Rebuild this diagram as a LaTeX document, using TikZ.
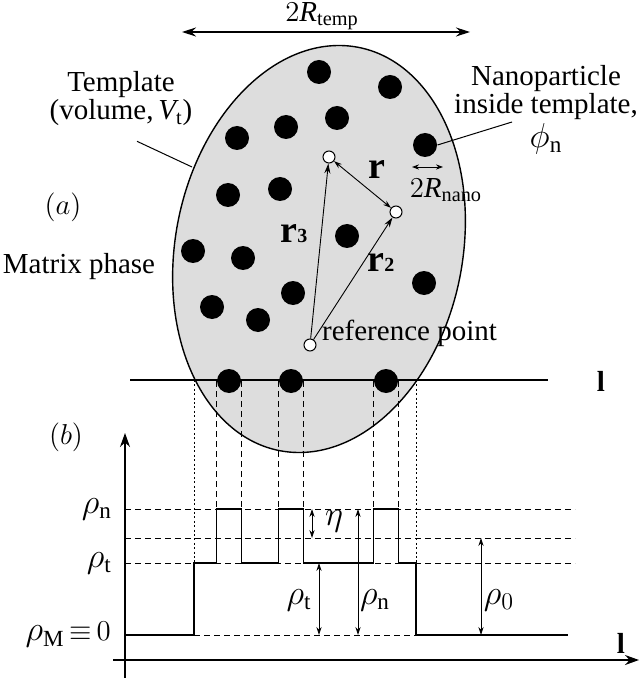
\documentclass[tikz,border=0pt]{standalone}
\usepackage{fontspec}
\setmainfont{Liberation Serif}
\usetikzlibrary{arrows.meta,calc}
\tikzset{
  particle/.style={
    shape = circle,
    fill,
    inner sep = 0pt,
    minimum size = 12pt
  },
  probe/.style={
    shape = circle,
    draw,
    fill = white,
    inner sep = 0pt,
    minimum size = 6pt
  },
  guide/.style={
    dash pattern = on 3pt off 2pt,
    line width = 0.45pt
  },
  dotguide/.style={
    dash pattern = on 1pt off 1.2pt,
    line width = 0.45pt
  },
  dimarrow/.style={
    {Stealth[length=4pt,width=2.6pt]}-{Stealth[length=4pt,width=2.6pt]},
    line width = 0.45pt
  },
  axis/.style={
    -{Stealth[length=7pt,width=5pt]},
    line width = 0.7pt
  },
  greek/.style={
    font=\fontsize{16.5}{16}\selectfont
  }
}
\begin{document}
\begin{tikzpicture}[x=0.5pt, y=-0.5pt, font=\fontsize{14.5}{14}\selectfont, line width=0.5pt]
  \useasboundingbox (0,0) rectangle (640,678);
  % (a) template with nanoparticles
  \draw[fill=gray!27, line width=0.7pt, shift={(319,249)}, xslant=0.098]
    (0,0) ellipse [x radius=72.5pt, y radius=101.75pt];
  \coordinate (lstart) at (130,380);
  \coordinate (lend) at (548,380);
  \draw[line width=0.6pt] (lstart) -- (lend);
  \node (llab) at (601,381) {\textbf{l}};
  \foreach \name/\px/\py in {d1/319/72, d2/390/87, d3/237/138, d4/286/127, d5/337/118,
      d6/425/145, d7/228/195, d8/280/189, d9/193/251, d10/243/258, d11/347/236,
      d12/424/283, d13/212/307, d14/258/320, d15/293/293,
      la/229/381, lb/291/381, lc/386/381}{
    \node[particle] (\name) at (\px,\py) {};
  }
  \node[probe] (p1) at (329,157) {};
  \node[probe] (p2) at (396,212) {};
  \node[probe] (ref) at (310,345) {};
  \draw[dimarrow] (p1) -- (p2);
  \draw[-{Stealth[length=5pt,width=3pt]}, line width=0.45pt] (ref) -- (p1);
  \draw[-{Stealth[length=5pt,width=3pt]}, line width=0.45pt] (ref) -- (p2);
  \node (rlab) at (377,170) {\fontsize{19}{19}\selectfont\textbf{r}};
  \node (r3lab) at (294,234) {\fontsize{19}{19}\selectfont\textbf{r}\fontsize{10}{10}\selectfont\textbf{3}};
  \node (r2lab) at (381,263) {\fontsize{19}{19}\selectfont\textbf{r}\fontsize{10}{10}\selectfont\textbf{2}};
  \node[anchor=west] (reflab) at (315,333) {reference point};
  % labels round the template
  \coordinate (tempL) at (182,32);
  \coordinate (tempR) at (470,32);
  \draw[{Stealth[length=7pt,width=4.5pt]}-{Stealth[length=7pt,width=4.5pt]}, line width=0.6pt] (tempL) -- (tempR);
  \node[inner sep=0pt] (templab) at (322,16) {$2\mathit{R}_{\mathrm{temp}}$};
  \node[align=center] (tmpl) at (121,99) {Template\\(volume,$\,\mathit{V}_{\mathrm{t}}$)};
  \coordinate (tmplend) at (192,167);
  \draw ([xshift=8pt,yshift=-4pt]tmpl.south) -- (tmplend);
  \node[align=center] (nano) at (546,110) {Nanoparticle\\inside template,\\[1pt]{\fontsize{16.5}{16}\selectfont$\phi_{\mathrm{n}}$}};
  \coordinate (nanoend) at (512,122);
  \draw (d6.east) -- (nanoend);
  \coordinate (na) at (412,167);
  \coordinate (nb) at (443,167);
  \draw[{Stealth[length=3.5pt,width=2.6pt]}-{Stealth[length=3.5pt,width=2.6pt]}, line width=0.45pt] (na) -- (nb);
  \node (nanolab) at (446,190) {$2\mathit{R}_{\mathrm{nano}}$};
  \node (alab) at (63,207) {$(a)$};
  \node (matrix) at (79,267) {Matrix phase};
  % (b) density profile along l
  \node (blab) at (66,437) {$(b)$};
  \coordinate (vaxbot) at (125,678);
  \coordinate (vaxtop) at (125,433);
  \coordinate (haxl) at (113,660);
  \coordinate (haxr) at (639,660);
  \draw[axis] (vaxbot) -- (vaxtop);
  \draw[axis] (haxl) -- (haxr);
  \node (llab2) at (621,643) {\textbf{l}};
  \coordinate (yn) at (125,509);
  \coordinate (y0) at (125,538);
  \coordinate (yt) at (125,563);
  \coordinate (ym) at (125,635);
  \coordinate (eL) at (194,380);
  \coordinate (eR) at (416,380);
  \coordinate (xend) at (575,0);
  \draw[guide] (yn) -- (xend |- yn);
  \draw[guide] (y0) -- (xend |- y0);
  \draw[guide] (yt) -- (xend |- yt);
  \draw[guide] (eL |- ym) -- (eR |- ym);
  \draw[dotguide] (eL) -- (eL |- yt);
  \draw[dotguide] (eR) -- (eR |- yt);
  \foreach \d in {la,lb,lc}{
    \draw[guide] (\d.west) -- (\d.west |- yn);
    \draw[guide] (\d.east) -- (\d.east |- yn);
  }
  \coordinate (stepend) at (568,635);
  \draw[line width=0.7pt] (ym) -- (eL |- ym) -- (eL |- yt)
    -- (la.west |- yt) -- (la.west |- yn) -- (la.east |- yn) -- (la.east |- yt)
    -- (lb.west |- yt) -- (lb.west |- yn) -- (lb.east |- yn) -- (lb.east |- yt)
    -- (lc.west |- yt) -- (lc.west |- yn) -- (lc.east |- yn) -- (lc.east |- yt)
    -- (eR |- yt) -- (eR |- ym) -- (stepend);
  \node[greek, anchor=east] (rhon) at (119,509) {$\rho_{\mathrm{n}}$};
  \node[greek, anchor=east] (rhot) at (119,563) {$\rho_{\mathrm{t}}$};
  \node[anchor=east] (rhom) at (118,635) {{\fontsize{16.5}{16}\selectfont$\rho_{\mathrm{M}}$}$\,{\equiv}\,0$};
  \coordinate (etaA) at (312,509);
  \coordinate (rtA) at (319,563);
  \coordinate (rnA) at (358,509);
  \coordinate (r0A) at (481,538);
  \draw[dimarrow] (etaA) -- (etaA |- y0);
  \draw[dimarrow] (rtA) -- (rtA |- ym);
  \draw[dimarrow] (rnA) -- (rnA |- ym);
  \draw[dimarrow] (r0A) -- (r0A |- ym);
  \node[greek] (etalab) at (334,521) {$\eta$};
  \node[greek] (rtlab) at (299,600) {$\rho_{\mathrm{t}}$};
  \node[greek] (rnlab) at (375,600) {$\rho_{\mathrm{n}}$};
  \node[greek] (r0lab) at (499,600) {$\rho_{0}$};
\end{tikzpicture}
\end{document}
